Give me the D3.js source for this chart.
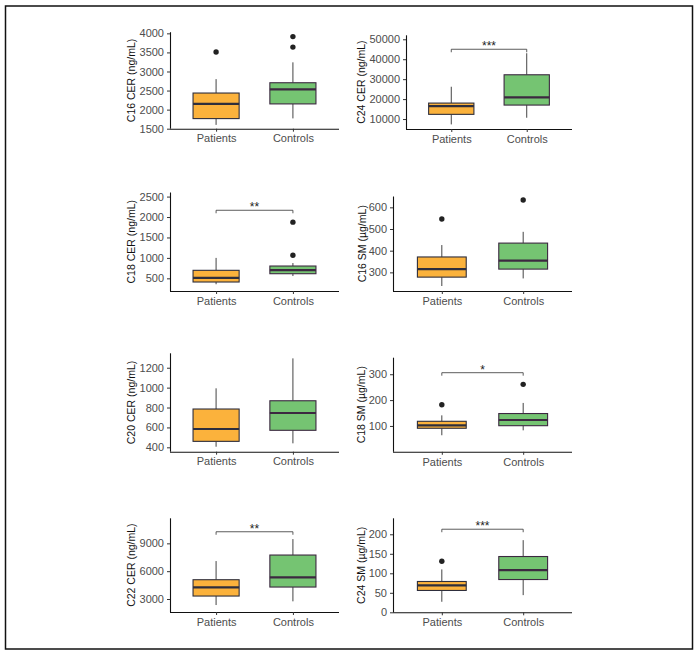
<!DOCTYPE html>
<html>
<head>
<meta charset="utf-8">
<script src="https://cdn.jsdelivr.net/npm/d3@7"></script>
<style>
  body { margin: 0; background: #fff; }
  svg { display: block; font-family: "Liberation Sans", Arial, sans-serif; }
</style>
</head>
<body>
<script>
// groups and panels
var groups = ["Patients", "Controls"];
var titles = ["C16 CER (ng/mL)", "C24 CER (ng/mL)", "C18 CER (ng/mL)", "C16 SM (\u00b5g/mL)",
              "C20 CER (ng/mL)", "C18 SM (\u00b5g/mL)", "C22 CER (ng/mL)", "C24 SM (\u00b5g/mL)"];

// box stats: [whisker low, q1, median, q3, whisker high]
var patients = [
  [1600, 1765, 2150, 2435, 2800],
  [7300, 12350, 16500, 18000, 26200],
  [355, 410, 510, 696, 1000],
  [237, 278, 315, 371, 426],
  [406, 460, 584, 785, 993],
  [64, 91, 102, 118, 141],
  [2350, 3320, 4260, 5080, 7090],
  [27, 56, 69, 79, 110]
];
var controls = [
  [1770, 2150, 2530, 2705, 3240],
  [10650, 17000, 20900, 32200, 43000],
  [556, 613, 703, 801, 874],
  [272, 315, 354, 435, 487],
  [440, 571, 745, 868, 1294],
  [83, 101, 123, 148, 189],
  [2750, 4290, 5340, 7740, 9460],
  [44, 84, 108, 143, 185]
];
var patientOutliers = [[3510], [], [], [546], [], [182], [], [131]];
var controlOutliers = [[3640, 3915], [], [1063, 1875], [634], [], [261], [], []];

// significance brackets
var stars = ["", "***", "**", "", "", "*", "**", "***"];
var bracketAt = [null, 45000, 2165, null, null, 306, 10250, 213];

// y axes
var yDomains = [[1500, 4030], [5000, 52000], [190, 2600], [214, 650],
                [356, 1345], [0, 364], [1600, 11700], [0, 241]];
var yTicks = [
  [1500, 2000, 2500, 3000, 3500, 4000],
  [10000, 20000, 30000, 40000, 50000],
  [500, 1000, 1500, 2000, 2500],
  [300, 400, 500, 600],
  [400, 600, 800, 1000, 1200],
  [100, 200, 300],
  [3000, 6000, 9000],
  [0, 50, 100, 150, 200]
];

// layout of each panel (pixels)
var layout = [
  {left: 170, right: 339, top: 32.2, bottom: 128.7, titleX: 134.5},
  {left: 406, right: 572, top: 35.3, bottom: 129, titleX: 364.5},
  {left: 170, right: 339, top: 192.5, bottom: 291, titleX: 134.5},
  {left: 393, right: 572, top: 196.5, bottom: 291, titleX: 366},
  {left: 170, right: 339, top: 353.3, bottom: 451.7, titleX: 134.5},
  {left: 393, right: 572, top: 357.7, bottom: 451.8, titleX: 365},
  {left: 170, right: 339, top: 518.3, bottom: 612, titleX: 134.5},
  {left: 393, right: 572, top: 518.3, bottom: 612.3, titleX: 365}
];

var fills = {Patients: "#fbb23c", Controls: "#75c472"};
var strokes = {Patients: "#2e2e3c", Controls: "#3c2840"};

var svg = d3.select("body").append("svg")
  .attr("width", 698)
  .attr("height", 656);

svg.append("rect")
  .attr("x", 5.5).attr("y", 6)
  .attr("width", 687).attr("height", 643)
  .attr("fill", "none")
  .attr("stroke", "#111")
  .attr("stroke-width", 1.5);

for (var i = 0; i < 8; i++) {
  var L = layout[i];
  var g = svg.append("g");

  var x = d3.scalePoint().domain(groups).range([L.left, L.right]).padding(0.6);
  var y = d3.scaleLinear().domain(yDomains[i]).range([L.bottom, L.top]);
  var bw = x.step() * 0.6;

  // axes
  var yAxis = g.append("g")
    .attr("transform", "translate(" + L.left + ",0)")
    .call(d3.axisLeft(y).tickValues(yTicks[i]).tickFormat(d3.format("d")).tickSize(3).tickPadding(3));
  var xAxis = g.append("g")
    .attr("transform", "translate(0," + L.bottom + ")")
    .call(d3.axisBottom(x).tickSize(3).tickPadding(3));

  [yAxis, xAxis].forEach(function(a) {
    a.select(".domain").attr("stroke", "#111").attr("stroke-width", 1.1);
    a.selectAll(".tick line").attr("stroke", "#333");
    a.selectAll(".tick text").attr("fill", "#4d4d4d").style("font-size", "11px");
  });
  yAxis.select(".domain").attr("d", "M0.5," + L.bottom + "V" + L.top);
  xAxis.select(".domain").attr("d", "M" + L.left + ",0.5H" + L.right);

  g.append("text")
    .attr("transform", "translate(" + L.titleX + "," + ((L.top + L.bottom) / 2) + ") rotate(-90)")
    .attr("text-anchor", "middle")
    .attr("fill", "#111")
    .style("font-size", "10.5px")
    .text(titles[i]);

  var boxData = [
    {grp: "Patients", s: patients[i], out: patientOutliers[i]},
    {grp: "Controls", s: controls[i], out: controlOutliers[i]}
  ];

  boxData.forEach(function(d) {
    var cx = x(d.grp);
    var s = d.s;
    // whiskers
    g.append("line")
      .attr("x1", cx).attr("x2", cx)
      .attr("y1", y(s[0])).attr("y2", y(s[1]))
      .attr("stroke", "#444").attr("stroke-width", 1);
    g.append("line")
      .attr("x1", cx).attr("x2", cx)
      .attr("y1", y(s[3])).attr("y2", y(s[4]))
      .attr("stroke", "#444").attr("stroke-width", 1);
    // box
    g.append("rect")
      .attr("x", cx - bw / 2)
      .attr("y", y(s[3]))
      .attr("width", bw)
      .attr("height", y(s[1]) - y(s[3]))
      .attr("fill", fills[d.grp])
      .attr("stroke", strokes[d.grp])
      .attr("stroke-width", 1.1);
    // median
    g.append("line")
      .attr("x1", cx - bw / 2).attr("x2", cx + bw / 2)
      .attr("y1", y(s[2])).attr("y2", y(s[2]))
      .attr("stroke", strokes[d.grp]).attr("stroke-width", 2.2);
    // outliers
    g.selectAll(null).data(d.out).enter().append("circle")
      .attr("cx", cx)
      .attr("cy", function(v) { return y(v); })
      .attr("r", 2.7)
      .attr("fill", "#222");
  });

  if (bracketAt[i] != null) {
    var by = y(bracketAt[i]);
    var x1 = x("Patients"), x2 = x("Controls");
    g.append("path")
      .attr("d", "M" + x1 + "," + (by + 3) + "V" + by + "H" + x2 + "V" + (by + 3))
      .attr("fill", "none")
      .attr("stroke", "#333")
      .attr("stroke-width", 0.8);
    g.append("text")
      .attr("x", (x1 + x2) / 2)
      .attr("y", by + 1)
      .attr("text-anchor", "middle")
      .attr("fill", "#222")
      .style("font-size", "12px")
      .text(stars[i]);
  }
}
</script>
</body>
</html>
